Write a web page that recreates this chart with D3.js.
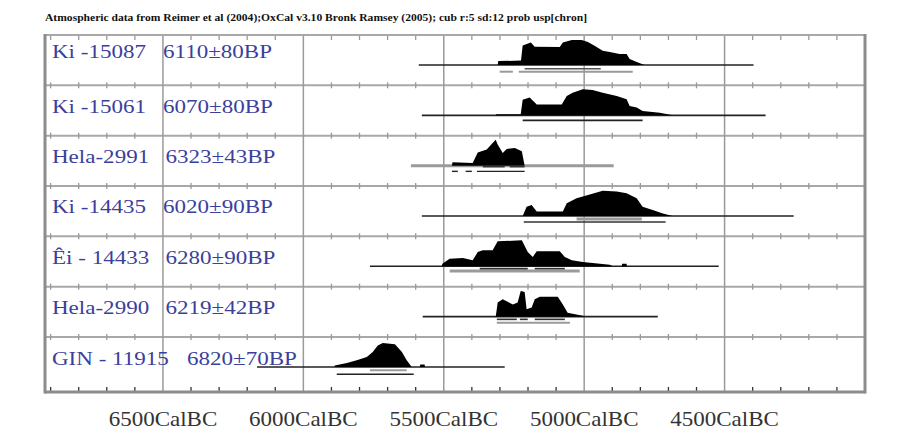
<!DOCTYPE html>
<html>
<head>
<meta charset="utf-8">
<script src="https://cdn.jsdelivr.net/npm/d3@7"></script>
<style>
  html, body { margin: 0; padding: 0; background: #fff; }
  svg { display: block; }
</style>
</head>
<body>
<svg id="chart" width="912" height="433"></svg>
<script>
// ---------------- DATA ----------------
const titleText = "Atmospheric data from Reimer et al (2004);OxCal v3.10 Bronk Ramsey (2005); cub r:5 sd:12 prob usp[chron]";
const sampleNames = ["Ki -15087", "Ki -15061", "Hela-2991", "Ki -14435", "Êi - 14433", "Hela-2990", "GIN - 11915"];
const sampleDates = ["6110±80BP", "6070±80BP", "6323±43BP", "6020±90BP", "6280±90BP", "6219±42BP", "6820±70BP"];
const majorTicks = [6500, 6000, 5500, 5000, 4500];          // years BC
const tickLabels = ["6500CalBC", "6000CalBC", "5500CalBC", "5000CalBC", "4500CalBC"];

// overall plotted span of each sample (years BC)
const spanStart = [5589, 5578, 5617, 5578, 5763, 5575, 6165];
const spanEnd   = [4397, 4354, 4895, 4254, 4521, 4738, 5283];

// probability distributions [year BC, relative probability]
const distKi15087 = [[5308,0],[5306,0.15],[5225,0.17],[5219,0.75],[5190,0.87],[5176,0.7],[5087,0.69],[5076,0.87],[5044,0.96],[5009,0.96],[4987,0.88],[4963,0.74],[4934,0.55],[4909,0.5],[4874,0.42],[4849,0.42],[4838,0.23],[4813,0.12],[4785,0]];
const distKi15061 = [[5315,0],[5313,0.04],[5226,0.04],[5219,0.6],[5194,0.69],[5169,0.42],[5080,0.42],[5062,0.74],[5041,0.87],[5005,1.0],[4970,0.97],[4934,0.87],[4884,0.74],[4849,0.62],[4838,0.36],[4813,0.3],[4792,0.17],[4731,0.1],[4685,0]];
const distHela2991 = [[5471,0],[5469,0.13],[5397,0.1],[5379,0.51],[5347,0.62],[5326,0.87],[5315,1.0],[5308,0.81],[5290,0.49],[5276,0.64],[5247,0.68],[5222,0.55],[5212,0]];
const distKi14435 = [[5219,0],[5205,0.36],[5187,0.42],[5169,0.17],[5076,0.17],[5062,0.49],[5027,0.68],[4980,0.83],[4934,0.97],[4884,0.94],[4849,0.87],[4813,0.68],[4792,0.36],[4756,0.23],[4720,0.1],[4685,0]];
const distEi14433 = [[5507,0],[5505,0.1],[5479,0.29],[5432,0.32],[5397,0.23],[5379,0.55],[5361,0.62],[5326,0.62],[5308,0.96],[5222,1.0],[5201,0.55],[5183,0.36],[5169,0.58],[5087,0.58],[5069,0.36],[5044,0.23],[5005,0.17],[4909,0.06],[4898,0],[4866,0],[4865,0.1],[4849,0.1],[4848,0]];
const distHela2990 = [[5315,0],[5308,0.54],[5290,0.67],[5254,0.47],[5237,0.54],[5226,0.99],[5212,0.95],[5205,0.28],[5187,0.35],[5176,0.67],[5158,0.77],[5094,0.77],[5076,0.47],[5059,0.15],[5005,0.03],[5000,0]];
const distGIN11915 = [[5890,0],[5888,0.06],[5845,0.15],[5810,0.26],[5774,0.38],[5753,0.58],[5735,0.83],[5717,0.92],[5674,0.87],[5649,0.58],[5632,0.26],[5614,0],[5585,0],[5584,0.1],[5568,0.1],[5567,0]];
const distributions = [distKi15087, distKi15061, distHela2991, distKi14435, distEi14433, distHela2990, distGIN11915];

// 1-sigma and 2-sigma calibrated ranges (years BC)
const sigma1Ranges = [
  [[5212,4941]],
  [],
  [[5361,5283],[5265,5212]],
  [[5027,4795]],
  [[5372,5201],[5176,5069]],
  [[5311,5240],[5229,5201],[5176,5069]],
  [[5763,5632]]
];
const sigma2Ranges = [
  [[5301,5254],[5233,4827]],
  [[5219,4792]],
  [[5471,5450],[5422,5400],[5382,5212]],
  [[5215,4710]],
  [[5479,5016]],
  [[5311,5051]],
  [[5881,5607]]
];

// ---------------- STYLE / LAYOUT ----------------
const plotLeft = 45, plotRight = 865, plotTop = 35, plotBottom = 392;
const rowStep = 50.33;
const dark = "#222", gray = "#9a9a9a", gridGray = "#a8a8a8", frameGray = "#8c8c8c";
const labelBlue = "#3b3f9c";

const spanStyle = [
  {c: dark, w: 1.6}, {c: dark, w: 1.6}, {c: gray, w: 3}, {c: dark, w: 1.6},
  {c: dark, w: 1.6}, {c: dark, w: 1.6}, {c: dark, w: 1.6}
];
const s1Style = [
  {dy: 3.7, c: "#555", w: 1.6}, {dy: 5, c: dark, w: 1.6}, {dy: 1, c: "#333", w: 1.6},
  {dy: 3, c: gray, w: 3}, {dy: 2.3, c: "#333", w: 1.6}, {dy: 2.7, c: "#333", w: 1.6},
  {dy: 3.3, c: gray, w: 2}
];
const s2Style = [
  {dy: 6.7, c: gray, w: 2}, {dy: 5, c: dark, w: 1.6}, {dy: 5.7, c: "#222", w: 1.4},
  {dy: 6, c: "#333", w: 1.6}, {dy: 4.7, c: gray, w: 3}, {dy: 6, c: gray, w: 2},
  {dy: 7.3, c: "#222", w: 1.6}
];
const labelDy = [22.5, 27.5, 27.5, 27.5, 27.5, 27.5, 28.5];
const dateX = [163, 163, 165.5, 163, 165.5, 165.5, 187];

const svg = d3.select("#chart");

const x = d3.scaleLinear().domain([6920, 4000]).range([plotLeft, plotRight]);
const rowTop = d3.scaleLinear().domain([0, 1]).range([plotTop, plotTop + rowStep]);
const h = d3.scaleLinear().domain([0, 1]).range([0, 26]);

// title
svg.append("text")
  .attr("x", 45).attr("y", 21)
  .attr("font-family", "Liberation Serif, Times New Roman, serif")
  .attr("font-size", 9.5).attr("font-weight", "bold")
  .attr("fill", "#111")
  .attr("textLength", 542).attr("lengthAdjust", "spacingAndGlyphs")
  .text(titleText);

// horizontal row separator lines
const gGrid = svg.append("g");
for (let i = 1; i < sampleNames.length; i++) {
  gGrid.append("line")
    .attr("x1", plotLeft).attr("x2", plotRight)
    .attr("y1", rowTop(i)).attr("y2", rowTop(i))
    .attr("stroke", gridGray).attr("stroke-width", 2);
}
// major vertical lines
gGrid.selectAll("line.major").data(majorTicks).join("line")
  .attr("class", "major")
  .attr("x1", d => x(d)).attr("x2", d => x(d))
  .attr("y1", plotTop).attr("y2", plotBottom)
  .attr("stroke", "#9a9a9a").attr("stroke-width", 1.5);

// minor ticks every 100 years on each row line
const minorYears = d3.range(6900, 4000, -100).filter(d => d % 500 !== 0);
const lineYs = d3.range(0, sampleNames.length).map(i => rowTop(i)).concat([plotBottom]);
lineYs.forEach((yy, k) => {
  let y1, y2;
  if (k === 0) { y1 = yy; y2 = yy + 5; }
  else if (k === lineYs.length - 1) { y1 = yy - 5; y2 = yy; }
  else { y1 = yy - 3; y2 = yy + 3; }
  gGrid.selectAll(null).data(minorYears).join("line")
    .attr("x1", d => x(d)).attr("x2", d => x(d))
    .attr("y1", y1).attr("y2", y2)
    .attr("stroke", k === lineYs.length - 1 ? "#333" : "#999")
    .attr("stroke-width", 1.3);
});

// frame
svg.append("line").attr("x1", plotLeft).attr("x2", plotRight).attr("y1", plotTop).attr("y2", plotTop)
  .attr("stroke", gridGray).attr("stroke-width", 2);
svg.append("line").attr("x1", plotLeft).attr("x2", plotRight).attr("y1", plotBottom).attr("y2", plotBottom)
  .attr("stroke", frameGray).attr("stroke-width", 3);
svg.append("line").attr("x1", plotLeft).attr("x2", plotLeft).attr("y1", plotTop - 1).attr("y2", plotBottom + 1.5)
  .attr("stroke", frameGray).attr("stroke-width", 3);
svg.append("line").attr("x1", plotRight).attr("x2", plotRight).attr("y1", plotTop - 1).attr("y2", plotBottom + 1.5)
  .attr("stroke", frameGray).attr("stroke-width", 3);

// rows
const area = d3.area()
  .x(d => x(d[0]))
  .y1(d => -h(d[1]))
  .y0(0);

sampleNames.forEach((name, i) => {
  const base = rowTop(i) + 30;
  const g = svg.append("g");

  const tf = "Liberation Serif, Times New Roman, serif";
  g.append("text")
    .attr("transform", `translate(52,${rowTop(i) + labelDy[i]}) scale(1.28,1)`)
    .attr("font-family", tf).attr("font-size", 18).attr("fill", labelBlue)
    .text(name);
  g.append("text")
    .attr("transform", `translate(${dateX[i]},${rowTop(i) + labelDy[i]}) scale(1.28,1)`)
    .attr("font-family", tf).attr("font-size", 18).attr("fill", labelBlue)
    .text(sampleDates[i]);

  g.append("line")
    .attr("x1", x(spanStart[i])).attr("x2", x(spanEnd[i]))
    .attr("y1", base).attr("y2", base)
    .attr("stroke", spanStyle[i].c).attr("stroke-width", spanStyle[i].w);

  g.append("path")
    .datum(distributions[i])
    .attr("transform", `translate(0,${base})`)
    .attr("d", area)
    .attr("fill", "#000");

  const drawRanges = (ranges, st) => {
    g.selectAll(null).data(ranges).join("line")
      .attr("x1", d => x(d[0])).attr("x2", d => x(d[1]))
      .attr("y1", base + st.dy).attr("y2", base + st.dy)
      .attr("stroke", st.c).attr("stroke-width", st.w);
  };
  drawRanges(sigma2Ranges[i], s2Style[i]);
  drawRanges(sigma1Ranges[i], s1Style[i]);
});

// bottom axis labels
svg.selectAll("text.tick").data(majorTicks).join("text")
  .attr("class", "tick")
  .attr("transform", d => `translate(${x(d)},426) scale(1.15,1)`)
  .attr("text-anchor", "middle")
  .attr("font-family", "Liberation Serif, Times New Roman, serif")
  .attr("font-size", 20).attr("fill", "#333")
  .text((d, i) => tickLabels[i]);
</script>
</body>
</html>
